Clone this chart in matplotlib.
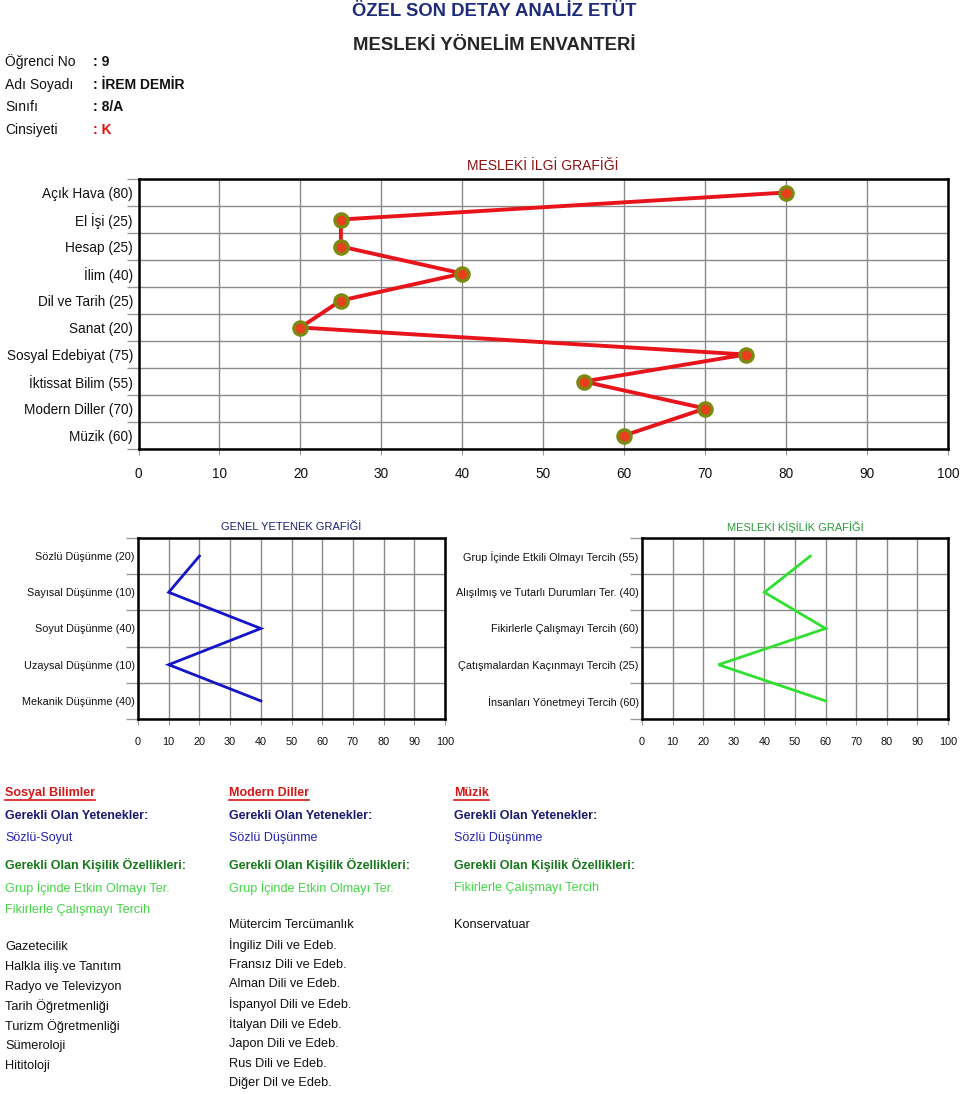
import matplotlib
matplotlib.use('Agg')
import matplotlib.pyplot as plt
from matplotlib.lines import Line2D

plt.rcParams['font.family'] = ['Liberation Sans', 'DejaVu Sans']

# --- data ---
ilgi_adlari = ['Açık Hava', 'El İşi', 'Hesap', 'İlim', 'Dil ve Tarih', 'Sanat',
               'Sosyal Edebiyat', 'İktissat Bilim', 'Modern Diller', 'Müzik']
ilgi_puan = [80, 25, 25, 40, 25, 20, 75, 55, 70, 60]

yetenek_adlari = ['Sözlü Düşünme', 'Sayısal Düşünme', 'Soyut Düşünme',
                  'Uzaysal Düşünme', 'Mekanik Düşünme']
yetenek_puan = [20, 10, 40, 10, 40]

kisilik_adlari = ['Grup İçinde Etkili Olmayı Tercih', 'Alışılmış ve Tutarlı Durumları Ter.',
                  'Fikirlerle Çalışmayı Tercih', 'Çatışmalardan Kaçınmayı Tercih',
                  'İnsanları Yönetmeyi Tercih']
kisilik_puan = [55, 40, 60, 25, 60]

ogrenci = [('Öğrenci No', ': 9'), ('Adı Soyadı', ': İREM DEMİR'),
           ('Sınıfı', ': 8/A'), ('Cinsiyeti', ': K')]

alanlar = ['Sosyal Bilimler', 'Modern Diller', 'Müzik']
yetenekler = ['Sözlü-Soyut', 'Sözlü Düşünme', 'Sözlü Düşünme']
kisilikler = [['Grup İçinde Etkin Olmayı Ter.', 'Fikirlerle Çalışmayı Tercih'],
              ['Grup İçinde Etkin Olmayı Ter.'],
              ['Fikirlerle Çalışmayı Tercih']]
meslekler = [['Gazetecilik', 'Halkla iliş.ve Tanıtım', 'Radyo ve Televizyon',
              'Tarih Öğretmenliği', 'Turizm Öğretmenliği', 'Sümeroloji', 'Hititoloji'],
             ['Mütercim Tercümanlık', 'İngiliz Dili ve Edeb.', 'Fransız Dili ve Edeb.',
              'Alman Dili ve Edeb.', 'İspanyol Dili ve Edeb.', 'İtalyan Dili ve Edeb.',
              'Japon Dili ve Edeb.', 'Rus Dili ve Edeb.', 'Diğer Dil ve Edeb.'],
             ['Konservatuar']]

W, H = 960, 1094
fig = plt.figure(figsize=(W / 100, H / 100), dpi=100)


def px(x0, y0, x1, y1):
    # pixel box -> figure fraction rect
    return [x0 / W, 1 - y1 / H, (x1 - x0) / W, (y1 - y0) / H]


def T(x, y, s, **kw):
    kw.setdefault('va', 'center')
    return fig.text(x / W, 1 - y / H, s, **kw)


def satir_grafik(rect, adlar, puan, renk, lw, fs, ypad, marker=False):
    ax = fig.add_axes(rect)
    n = len(adlar)
    ys = [i + 0.5 for i in range(n)]
    ax.plot(puan, ys, color=renk, lw=lw, zorder=3, solid_joinstyle='miter')
    if marker:
        ax.plot(puan, ys, 'o', ms=9.5, mfc='#e8401c', mec='#7c8a12', mew=2.4, zorder=4)
    ax.set_xlim(0, 100)
    ax.set_ylim(n, 0)
    ax.set_xticks(range(0, 101, 10))
    ax.set_yticks(ys)
    ax.set_yticklabels([f'{a} ({p})' for a, p in zip(adlar, puan)], fontsize=fs, color='#111')
    ax.set_yticks(range(n + 1), minor=True)
    ax.tick_params(axis='y', which='major', length=0, pad=ypad)
    ax.tick_params(axis='y', which='minor', length=9, color='#999', width=1)
    ax.tick_params(axis='x', length=4, color='#999', labelsize=fs, pad=9, labelcolor='#111')
    ax.grid(True, which='minor', axis='y', color='#8a8a8a', lw=1)
    ax.grid(True, which='major', axis='x', color='#8a8a8a', lw=1)
    for s in ax.spines.values():
        s.set_linewidth(1.8)
        s.set_color('black')
    return ax


satir_grafik(px(138.5, 179, 948, 449), ilgi_adlari, ilgi_puan, '#e8141c', 2.8, 9.8, 4, marker=True)
T(543, 166, 'MESLEKİ İLGİ GRAFİĞİ', ha='center', fontsize=10, color='#8c1010')

satir_grafik(px(138, 538, 445, 719), yetenek_adlari, yetenek_puan, '#1414c8', 2.0, 7.8, 2.5)
T(291, 527, 'GENEL YETENEK GRAFİĞİ', ha='center', fontsize=8, color='#1a2070')

satir_grafik(px(642, 538, 948, 719), kisilik_adlari, kisilik_puan, '#30e030', 2.0, 7.8, 2.5)
T(795, 527, 'MESLEKİ KİŞİLİK GRAFİĞİ', ha='center', fontsize=8, color='#2a9a3a')

# header
T(494, 12, 'ÖZEL SON DETAY ANALİZ ETÜT', ha='center', fontsize=13.3, weight='bold', color='#1e2c7a')
T(494, 46, 'MESLEKİ YÖNELİM ENVANTERİ', ha='center', fontsize=13.3, weight='bold', color='#262626')
for i, (k, v) in enumerate(ogrenci):
    y = 62 + i * 22.7
    T(5, y, k, fontsize=10, color='#111')
    T(93, y, v, fontsize=10, weight='bold', color='#e01010' if k == 'Cinsiyeti' else '#111')

# bottom columns
cols = [5, 229, 454]
fig.canvas.draw()
r = fig.canvas.get_renderer()
for j, x in enumerate(cols):
    t = T(x, 793, alanlar[j], fontsize=9, weight='bold', color='#d41818')
    bb = t.get_window_extent(renderer=r)
    fig.add_artist(Line2D([bb.x0 / W, bb.x1 / W], [1 - 799.5 / H] * 2,
                          color='#d41818', lw=1.2, transform=fig.transFigure))
    T(x, 816, 'Gerekli Olan Yetenekler:', fontsize=9, weight='bold', color='#1a1a70')
    T(x, 838, yetenekler[j], fontsize=9, color='#2424b4')
    T(x, 865, 'Gerekli Olan Kişilik Özellikleri:', fontsize=9, weight='bold', color='#17781c')
    for k, s in enumerate(kisilikler[j]):
        T(x, 888 + k * 22.5, s, fontsize=9.1, color='#44d444')
    y0 = 947 if j == 0 else 925
    step = 19.8
    for k, s in enumerate(meslekler[j]):
        T(x, y0 + k * step, s, fontsize=9.2, color='#111')

fig.savefig('out.png', dpi=100)
